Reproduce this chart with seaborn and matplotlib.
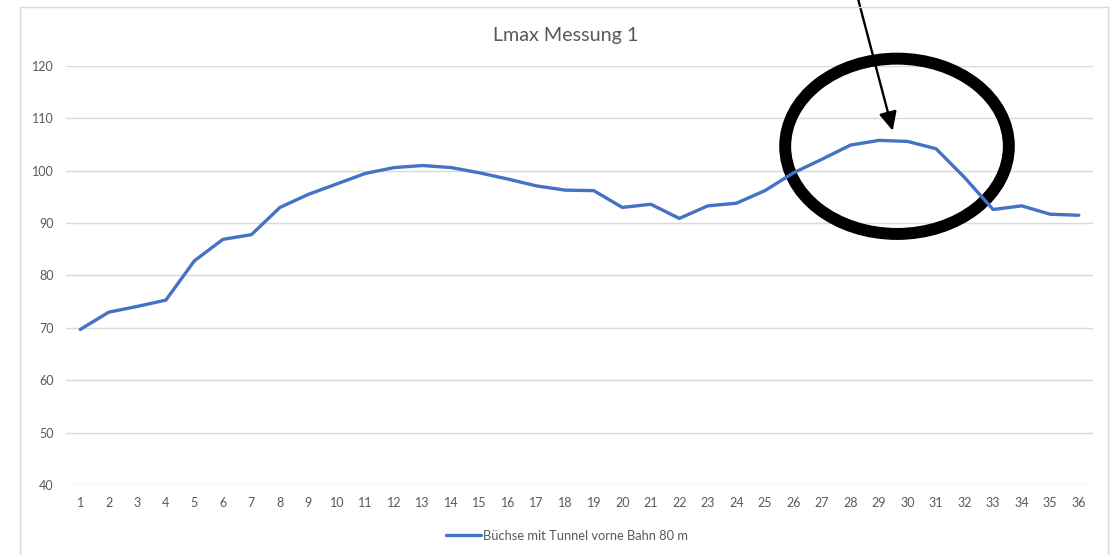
import matplotlib
matplotlib.use("Agg")
import matplotlib.pyplot as plt
from matplotlib.lines import Line2D
from matplotlib.patches import Ellipse, Rectangle
import pandas as pd
import seaborn as sns

# Messreihe
messpunkte = list(range(1, 37))
lmax = [69.7, 73.0, 74.1, 75.3, 82.8, 86.9, 87.8, 93.0, 95.5, 97.5,
        99.5, 100.6, 101.0, 100.6, 99.6, 98.4, 97.1, 96.3, 96.2, 93.0,
        93.6, 90.9, 93.3, 93.8, 96.2, 99.6, 102.2, 104.9, 105.8, 105.6,
        104.2, 98.7, 92.6, 93.3, 91.7, 91.5]
serie = "Büchse mit Tunnel vorne Bahn 80 m"
titel = "Lmax Messung 1"
y_ticks = [40, 50, 60, 70, 80, 90, 100, 110, 120]
x_labels = [str(m) for m in messpunkte]

LINE_COLOR = "#4472C4"
TEXT_COLOR = "#595959"
GRID_COLOR = "#d9d9d9"

sns.set_theme(style="white")
plt.rcParams["font.family"] = ["Lato", "DejaVu Sans"]

W, H = 1112, 555
fig = plt.figure(figsize=(W / 100, H / 100), dpi=100)
ax = fig.add_axes([66 / W, 1 - 485 / H, (1093 - 66) / W, (485 - 66) / H])

df = pd.DataFrame({"Messpunkt": messpunkte, "Lmax": lmax})
sns.lineplot(data=df, x="Messpunkt", y="Lmax", color=LINE_COLOR,
             linewidth=2.4, ax=ax, legend=False)

ax.set_xlim(0.5, 36.5)
ax.set_ylim(40, 120)
ax.set_xticks(messpunkte)
ax.set_xticklabels(x_labels)
ax.set_yticks(y_ticks)
ax.set_yticklabels([str(v) for v in y_ticks])
ax.set_xlabel("")
ax.set_ylabel("")
ax.grid(axis="y", color=GRID_COLOR, linewidth=1)
ax.grid(axis="x", visible=False)
ax.set_axisbelow(True)
for s in ax.spines.values():
    s.set_visible(False)
ax.tick_params(axis="x", length=0, pad=8.5, labelsize=9, labelcolor=TEXT_COLOR)
ax.tick_params(axis="y", length=0, pad=9, labelsize=9, labelcolor=TEXT_COLOR)

# Titel und Legende
fig.text(565.5 / W, 1 - 35 / H, titel, ha="center", va="center",
         fontsize=14.2, color=TEXT_COLOR)
handle = Line2D([0], [0], color=LINE_COLOR, linewidth=2.4)
fig.legend(handles=[handle], labels=[serie], loc="center",
           bbox_to_anchor=(567 / W, 1 - 535.7 / H), frameon=False,
           fontsize=9.3, labelcolor=TEXT_COLOR, handlelength=2.7,
           handletextpad=0.1)

# Diagrammrahmen
fig.patches.append(Rectangle((20 / W, -0.1), (1108 - 20) / W, 1 - 7 / H + 0.1,
                             transform=fig.transFigure, fill=False,
                             edgecolor=GRID_COLOR, linewidth=1))

# Markierung des Maximums
ax.add_patch(Ellipse((29.63, 104.67), 7.84, 33.47, fill=False,
                     edgecolor="black", linewidth=8.6, clip_on=False))
ax.annotate("", xy=(29.48, 107.65), xycoords="data",
            xytext=(855.7 / W, 1 + 10 / H), textcoords="figure fraction",
            arrowprops=dict(arrowstyle="-|>,head_length=1.13,head_width=0.54",
                            color="black", lw=1.7, shrinkA=0, shrinkB=0,
                            mutation_scale=10),
            annotation_clip=False)

fig.savefig("out.png", dpi=100)
